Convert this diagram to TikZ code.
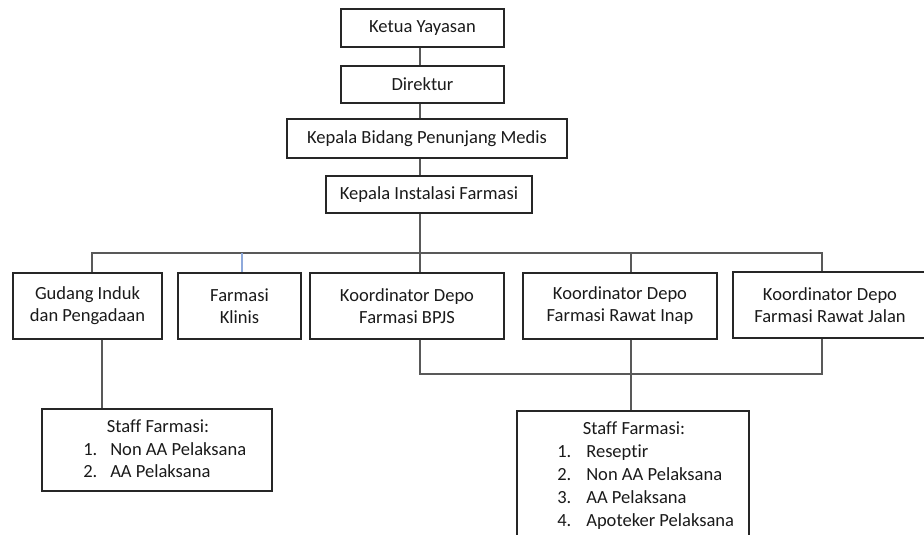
\documentclass[tikz,border=0pt]{standalone}
\usepackage{fontspec}
\setmainfont{Carlito}[Ligatures=NoCommon]
\definecolor{txt}{HTML}{1A1A1A}
\definecolor{conn}{HTML}{595959}
\definecolor{lblue}{HTML}{8EA9DB}
\begin{document}
\begin{tikzpicture}[x=0.75pt,y=-0.75pt,
  box/.style={draw=black!85, line width=1.1pt, rectangle, inner sep=0pt, align=center,
    text=txt, font=\fontsize{13.9pt}{16.5pt}\selectfont},
  conline/.style={draw=conn, line width=0.9pt},
  bluline/.style={draw=lblue, line width=0.9pt},
  item/.style={anchor=base west, inner sep=0pt, text=txt, font=\fontsize{13.9pt}{16.5pt}\selectfont},
  ttl/.style={anchor=base, inner sep=0pt, text=txt, font=\fontsize{13.9pt}{16.5pt}\selectfont}]
\useasboundingbox (0,0) rectangle (924,535);
\begin{scope}
\clip (0,0) rectangle (924,535);
% top chain
\node[box, minimum width={163*0.75pt}, minimum height={38*0.75pt}] (ketua) at (422.5,28) {Ketua Yayasan};
\node[box, minimum width={163*0.75pt}, minimum height={37*0.75pt}] (direktur) at (422.5,84.5) {Direktur};
\node[box, minimum width={280*0.75pt}, minimum height={39*0.75pt}] (kabid) at (427,138.5) {Kepala Bidang Penunjang Medis};
\node[box, minimum width={206*0.75pt}, minimum height={37*0.75pt}] (kif) at (429,194.5) {Kepala Instalasi Farmasi};
% second level
\node[box, minimum width={149*0.75pt}, minimum height={66*0.75pt}] (gudang) at (87.5,306) {Gudang Induk\\dan Pengadaan};
\node[box, minimum width={123*0.75pt}, minimum height={66*0.75pt}] (klinis) at (239.5,306) {Farmasi\\Klinis};
\node[box, minimum width={194*0.75pt}, minimum height={66*0.75pt}] (bpjs) at (407,306) {Koordinator Depo\\Farmasi BPJS};
\node[box, minimum width={194*0.75pt}, minimum height={66*0.75pt}] (inap) at (620,306) {Koordinator Depo\\Farmasi Rawat Inap};
\node[box, minimum width={202*0.75pt}, minimum height={66*0.75pt}] (jalan) at (834,305) {\hspace*{-6pt}Koordinator Depo\\\hspace*{-6pt}Farmasi Rawat Jalan};
% staff boxes
\node[box, minimum width={230*0.75pt}, minimum height={82*0.75pt}] (staff1) at (157,450) {};
\node[box, minimum width={232*0.75pt}, minimum height={134*0.75pt}] (staff2) at (633,478) {};
% staff 1 text
\node[ttl] (s1t) at (158,432) {Staff Farmasi:};
\node[item] (s1n1) at (83,455) {1.};
\node[item] (s1i1) at (110,455) {Non AA Pelaksana};
\node[item] (s1n2) at (83,477) {2.};
\node[item] (s1i2) at (110,477) {AA Pelaksana};
% staff 2 text
\node[ttl] (s2t) at (634,434) {Staff Farmasi:};
\node[item] (s2n1) at (557,457) {1.};
\node[item] (s2i1) at (586,457) {Reseptir};
\node[item] (s2n2) at (557,480) {2.};
\node[item] (s2i2) at (586,480) {Non AA Pelaksana};
\node[item] (s2n3) at (557,503) {3.};
\node[item] (s2i3) at (586,503) {AA Pelaksana};
\node[item] (s2n4) at (557,526) {4.};
\node[item] (s2i4) at (586,526) {Apoteker Pelaksana};
% coordinates
\coordinate (spine) at (420,0);
\coordinate (busL) at (92,253);
\coordinate (busR) at (822,253);
\coordinate (kl) at (242,253);
\coordinate (inx) at (631,253);
\coordinate (lowR) at (822,374);
\coordinate (gx) at (102,0);
% connectors
\draw[conline] (ketua.south -| spine) -- (direktur.north -| spine);
\draw[conline] (direktur.south -| spine) -- (kabid.north -| spine);
\draw[conline] (kabid.south -| spine) -- (kif.north -| spine);
\draw[conline] (kif.south -| spine) -- (bpjs.north -| spine);
\draw[conline] (gudang.north -| busL) -- (busL) -- (busR) -- (jalan.north -| busR);
\draw[bluline] (kl) -- (klinis.north -| kl);
\draw[conline] (inx) -- (inap.north -| inx);
\draw[conline] (bpjs.south -| spine) |- (lowR) -- (jalan.south -| lowR);
\draw[conline] (inap.south -| inx) -- (staff2.north -| inx);
\draw[conline] (gudang.south -| gx) -- (staff1.north -| gx);
\end{scope}
\end{tikzpicture}
\end{document}
